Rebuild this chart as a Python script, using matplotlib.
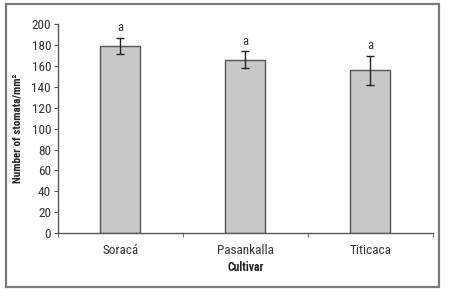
import matplotlib.pyplot as plt
from matplotlib.patches import Rectangle

# Stomatal density per cultivar
cultivars = ["Soracá", "Pasankalla", "Titicaca"]
stomata = [179.5, 166, 156]
errors = [7.5, 8, 14]
letters = ["a", "a", "a"]

plt.rcParams['font.family'] = ['Roboto Condensed', 'Liberation Sans Narrow', 'Liberation Sans', 'DejaVu Sans']

fig = plt.figure(figsize=(4.51, 2.98), dpi=100)
ax = fig.add_axes([58 / 451, 1 - 233 / 298, (432.7 - 58) / 451, (233 - 24.3) / 298])

x = list(range(len(cultivars)))
ax.bar(x, stomata, width=0.32, color='#c8c8c8', edgecolor='#555555', linewidth=1.0, zorder=2)
ax.errorbar(x, stomata, yerr=errors, fmt='none', ecolor='#222222', elinewidth=1.0,
            capsize=3, capthick=1.0, zorder=3)

for xi, v, e, lab in zip(x, stomata, errors, letters):
    ax.annotate(lab, (xi, v + e), xytext=(0, 2.5), textcoords='offset points',
                ha='center', va='bottom', fontsize=9, color='#333333')

ax.set_xlim(-0.5, 2.5)
ax.set_ylim(0, 200)
ax.set_yticks(range(0, 201, 20))
ax.set_xticks(x)
ax.set_xticklabels(cultivars)
ax.set_xticks([-0.5, 0.5, 1.5, 2.5], minor=True)
ax.tick_params(axis='x', which='major', length=0, pad=8, labelsize=9.5, labelcolor='#333333')
ax.tick_params(axis='x', which='minor', length=3, color='#555555', direction='out')
ax.tick_params(axis='y', length=3, color='#555555', direction='out', labelsize=9.5,
               labelcolor='#333333', pad=2)

for side in ['top', 'right']:
    ax.spines[side].set_visible(False)
for side in ['left', 'bottom']:
    ax.spines[side].set_color('#555555')
    ax.spines[side].set_linewidth(1.0)

ax.set_xlabel("Cultivar", fontsize=8.5, fontweight='bold', color='#222222', labelpad=3)
ax.set_ylabel("Number of stomata/mm²", fontsize=8, fontweight='bold', color='#222222')
ax.yaxis.set_label_coords(-0.095, 0.5)

# outer frame around the figure
fig.patches.append(Rectangle((6 / 451, 1 - 287 / 298), (438.7 - 6) / 451, (287 - 4) / 298,
                             transform=fig.transFigure, fill=False, edgecolor='#7a7a7a',
                             linewidth=1.6))

fig.savefig("out.png", dpi=100)
